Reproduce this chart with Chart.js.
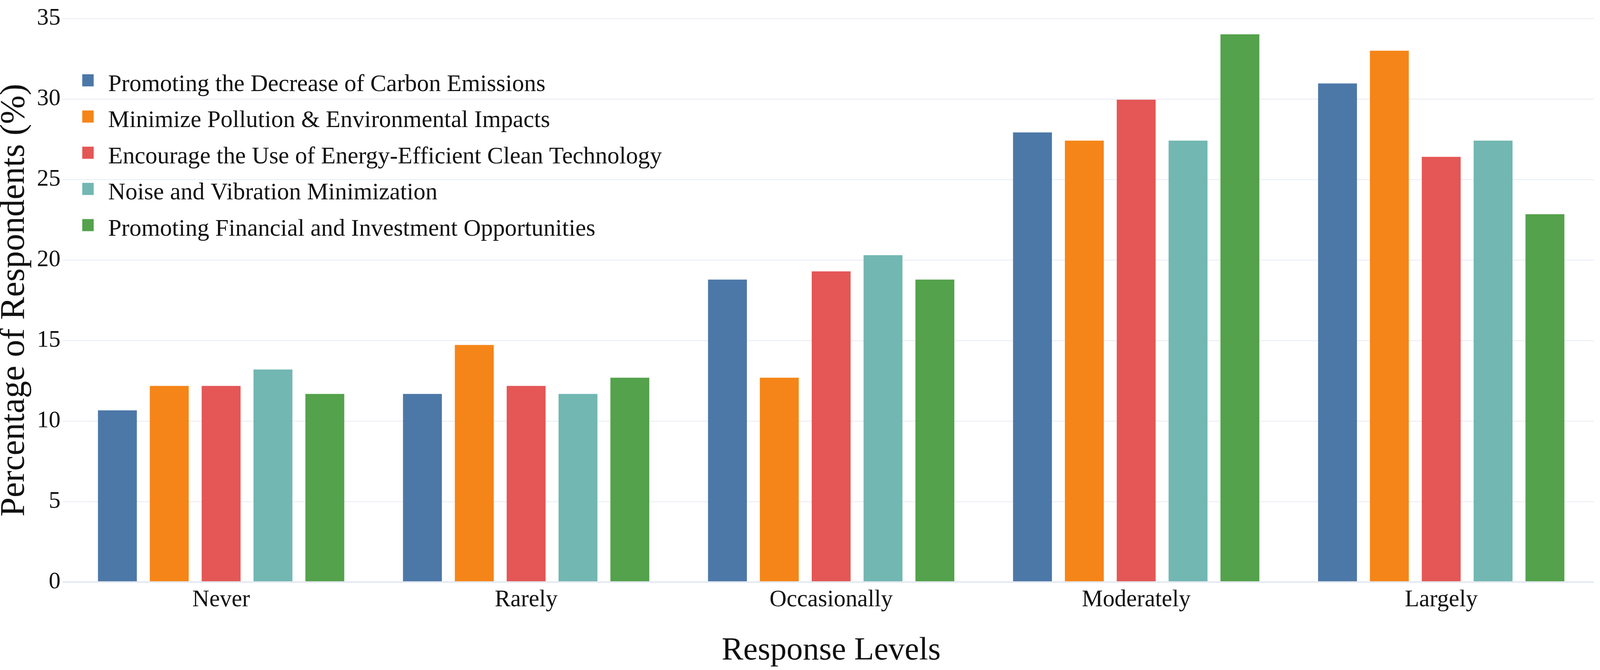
<!DOCTYPE html>
<html>
<head>
<meta charset="utf-8">
<title>Response Levels</title>
<script src="https://cdn.jsdelivr.net/npm/chart.js@4.4.1/dist/chart.umd.min.js"></script>
<style>
    html, body { margin: 0; padding: 0; background: #ffffff; overflow: hidden; }
    #wrap { position: relative; width: 100vw; height: 100vh; }
</style>
</head>
<body>
<div id="wrap"><canvas id="chart"></canvas></div>
<script>
// Categories (x axis)
const levels = ['Never', 'Rarely', 'Occasionally', 'Moderately', 'Largely'];

// Series names
const seriesNames = [
    'Promoting the Decrease of Carbon Emissions',
    'Minimize Pollution & Environmental Impacts',
    'Encourage the Use of Energy-Efficient Clean Technology',
    'Noise and Vibration Minimization',
    'Promoting Financial and Investment Opportunities'
];

// Percentage of respondents per level
const carbonEmissions = [10.66, 11.68, 18.78, 27.92, 30.96];
const pollution       = [12.18, 14.72, 12.69, 27.41, 32.99];
const cleanTech       = [12.18, 12.18, 19.29, 29.95, 26.40];
const noiseVibration  = [13.20, 11.68, 20.30, 27.41, 27.41];
const financial       = [11.68, 12.69, 18.78, 34.01, 22.84];

// Y axis ticks
const yMin = 0;
const yMax = 35;
const yStep = 5;

// Colours
const seriesColors = ['#4c78a8', '#f58518', '#e45756', '#72b7b2', '#54a24b'];
const gridColor = '#eef1f6';
const zeroColor = '#e4e9f2';
const textColor = '#111111';

// Sizes were measured on a 4338 x 1714 picture; scale them to the real window
const kx = window.innerWidth / 4338;
const ky = window.innerHeight / 1714;
const k = kx;

Chart.defaults.font.family = "'Liberation Serif', 'Times New Roman', serif";
Chart.defaults.color = textColor;

const seriesValues = [carbonEmissions, pollution, cleanTech, noiseVibration, financial];

// Legend drawn inside the plot, top left, like the original
const insideLegend = {
    id: 'insideLegend',
    afterDraw(chart) {
        const ctx = chart.ctx;
        const area = chart.chartArea;
        ctx.save();
        ctx.font = (65 * k) + "px 'Liberation Serif', serif";
        ctx.textBaseline = 'alphabetic';
        ctx.textAlign = 'left';
        chart.data.datasets.forEach((ds, i) => {
            const cy = area.top + (158.5 + i * 92.6) * ky;
            ctx.fillStyle = ds.backgroundColor;
            ctx.fillRect(area.left + 37 * kx, cy - 15.5 * ky, 31 * kx, 31 * ky);
            ctx.fillStyle = textColor;
            ctx.fillText(ds.label, area.left + 107 * kx, cy + 27 * ky);
        });
        ctx.restore();
    }
};

// y title: its length runs along the height, so it follows the vertical scale
const yTitleSize = 88 * ky;

new Chart(document.getElementById('chart'), {
    type: 'bar',
    data: {
        labels: levels,
        datasets: seriesNames.map((name, i) => ({
            label: name,
            data: seriesValues[i],
            backgroundColor: seriesColors[i],
            borderWidth: 0,
            categoryPercentage: 0.85,
            barPercentage: 0.75
        }))
    },
    options: {
        responsive: true,
        maintainAspectRatio: false,
        animation: false,
        layout: { padding: { top: 47 * ky, right: 17 * kx, bottom: 0, left: 0 } },
        plugins: {
            legend: { display: false },
            tooltip: { enabled: false }
        },
        scales: {
            x: {
                grid: { display: false, drawTicks: false },
                border: { display: false },
                ticks: { font: { size: 64 * k }, padding: 10 * ky, color: textColor },
                title: {
                    display: true,
                    text: 'Response Levels',
                    font: { size: 88 * k, lineHeight: 96.8 * ky / (88 * k) },
                    padding: 0,
                    color: textColor
                },
                afterFit: s => { s.height = 225 * ky; }
            },
            y: {
                min: yMin,
                max: yMax,
                grid: {
                    color: ctx => ctx.tick && ctx.tick.value === 0 ? zeroColor : gridColor,
                    lineWidth: ctx => (ctx.tick && ctx.tick.value === 0 ? 4 : 3) * ky,
                    tickColor: ctx => ctx.tick && ctx.tick.value === 0 ? zeroColor : gridColor,
                    drawTicks: true,
                    tickLength: 16 * kx
                },
                border: { display: false },
                ticks: { stepSize: yStep, font: { size: 64 * k }, padding: 6 * kx, color: textColor },
                title: {
                    display: true,
                    text: 'Percentage of Respondents (%)',
                    font: { size: yTitleSize, lineHeight: 80 * kx / yTitleSize },
                    padding: 0,
                    color: textColor
                },
                afterFit: s => { s.width = 186 * kx; }
            }
        }
    },
    plugins: [insideLegend]
});
</script>
</body>
</html>
